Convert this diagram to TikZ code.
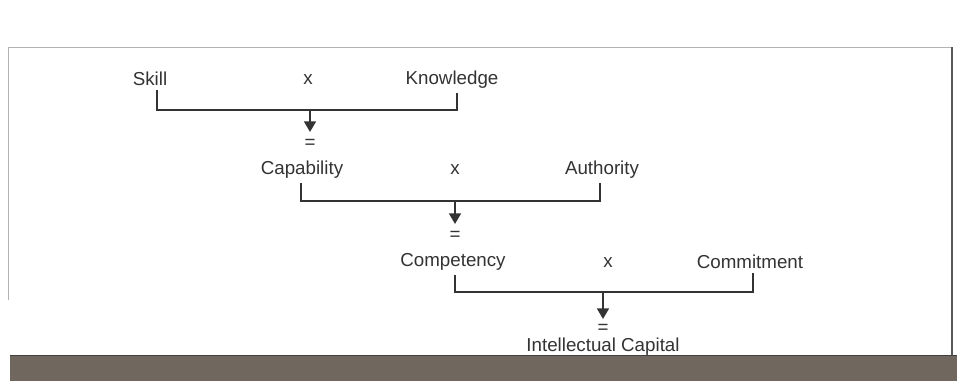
\documentclass[tikz,border=0pt]{standalone}
\usepackage{fontspec}
\setmainfont{Liberation Sans}
\usetikzlibrary{calc}
\usetikzlibrary{arrows.meta}
\definecolor{band}{RGB}{112,104,94}
\begin{document}
\begin{tikzpicture}[x=0.03cm, y=-0.03cm]
\tikzstyle{term}    = [inner sep=1pt, font=\fontsize{16}{19}\selectfont, text=black!80]
\tikzstyle{bracket} = [draw=black!80, line width=1.1pt]
\tikzstyle{result}  = [bracket, line width=1.8pt, -{Triangle[width=10pt,length=9pt]}]
\useasboundingbox (0,0) rectangle (957,381);
 %%Frame
\fill [white] (0,0) rectangle (957,381);
\draw [black!30, line width=0.8pt] (8,300) -- (8,47) -- (952,47);
\draw [black!65, line width=0.9pt] (952,47) -- (952,356);
\fill [band] (10,355) rectangle (957,381);
\draw [black!75, line width=1pt] (10,355.5) -- (957,355.5);
 %%Terms
\node [term](skill) at (150,79) {Skill};
\node [term](x1) at (308,80) {x};
\node [term](know) at (452,80) {Knowledge};
\node [term](eq1) at (310,144) {=};
\node [term](capab) at (302,170) {Capability};
\node [term](x2) at (455,170) {x};
\node [term](auth) at (602,170) {Authority};
\node [term](eq2) at (455,236) {=};
\node [term](compet) at (453,262) {Competency};
\node [term](x3) at (608,263) {x};
\node [term](commit) at (750,262) {Commitment};
\node [term](eq3) at (603,329) {=};
\node [term](ic) at (603,347) {Intellectual Capital};
 %%Brackets
\coordinate (b1) at ($(x1)+(2,30)$);
\coordinate (b2) at ($(x2)+(0,31)$);
\coordinate (b3) at ($(x3)+(-5,29)$);
\draw [bracket] ($(skill.south)+(7,3)$) |- (b1) -| ($(know.south)+(5,3)$);
\draw [bracket] ($(capab.south)+(-1,3)$) |- (b2) -| ($(auth.south)+(-2,3)$);
\draw [bracket] ($(compet.south)+(2,3)$) |- (b3) -| ($(commit.south)+(3,3)$);
\draw [result] (b1) -- ($(b1 |- eq1)+(0,-12)$);
\draw [result] (b2) -- ($(b2 |- eq2)+(0,-12)$);
\draw [result] (b3) -- ($(b3 |- eq3)+(0,-10)$);
\end{tikzpicture}
\end{document}
